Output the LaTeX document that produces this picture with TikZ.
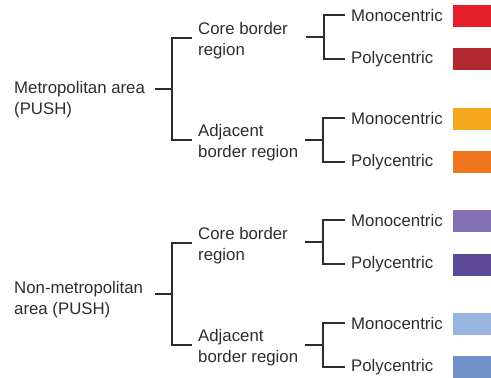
\documentclass[tikz,border=0pt]{standalone}
\usepackage{fontspec}
\setmainfont{Liberation Sans}
\usepackage{tikz}
\definecolor{inkgray}{RGB}{45, 45, 45}
\definecolor{monored}{RGB}{228, 30, 43}
\definecolor{polyred}{RGB}{176, 40, 48}
\definecolor{monoorange}{RGB}{246, 168, 28}
\definecolor{polyorange}{RGB}{238, 116, 30}
\definecolor{monopurple}{RGB}{132, 112, 177}
\definecolor{polypurple}{RGB}{91, 72, 151}
\definecolor{monoblue}{RGB}{154, 180, 224}
\definecolor{polyblue}{RGB}{114, 144, 201}
\usetikzlibrary{positioning, calc}

\begin{document}
\begin{tikzpicture}[x=1pt, y=-1pt,
    label/.style={anchor=west, align=left, inner xsep=6pt, inner ysep=0pt,
                  text=inkgray, font=\fontsize{16.8}{21}\selectfont},
    bracket/.style={draw=inkgray, line width=2pt},
    swatch/.style={fill=#1, draw=none, minimum width=38pt, minimum height=22pt,
                   inner sep=0pt}
]
    \useasboundingbox (0,0) rectangle (491,378);

    % Areas
    \node[label] (metro) at (8,100) {Metropolitan area\\(PUSH)};
    \node[label] (nonmetro) at (8,300) {Non-metropolitan\\area (PUSH)};

    % Border regions
    \node[label] (core1) at (192,41) {Core border\\region};
    \node[label] (adj1) at (192,142.5) {Adjacent\\border region};
    \node[label] (core2) at (192,246) {Core border\\region};
    \node[label] (adj2) at (192,347.5) {Adjacent\\border region};

    % Urban structure
    \node[label] (mono1) at (345,15) {Monocentric};
    \node[label] (poly1) at (345,59) {Polycentric};
    \node[label] (mono2) at (345,118) {Monocentric};
    \node[label] (poly2) at (345,162) {Polycentric};
    \node[label] (mono3) at (345,220) {Monocentric};
    \node[label] (poly3) at (345,264) {Polycentric};
    \node[label] (mono4) at (345,323) {Monocentric};
    \node[label] (poly4) at (345,367) {Polycentric};

    % Colour keys
    \node[swatch=monored] (key1) at (472,16) {};
    \node[swatch=polyred] (key2) at (472,59) {};
    \node[swatch=monoorange] (key3) at (472,119) {};
    \node[swatch=polyorange] (key4) at (472,162) {};
    \node[swatch=monopurple] (key5) at (472,220.5) {};
    \node[swatch=polypurple] (key6) at (472,264.5) {};
    \node[swatch=monoblue] (key7) at (472,323.5) {};
    \node[swatch=polyblue] (key8) at (472,367) {};

    % Junctions
    \coordinate (jmetro) at (172,89);
    \coordinate (jnonmetro) at (172,294);
    \coordinate (jcore1) at (324,37);
    \coordinate (jadj1) at (323,140);
    \coordinate (jcore2) at (323,242);
    \coordinate (jadj2) at (323,345);

    % Brackets
    \draw[bracket] (jmetro) -- +(-17,0)
        ([yshift=3pt]core1.west) -| (jmetro) |- ([yshift=3pt]adj1.west);
    \draw[bracket] (jnonmetro) -- +(-17,0)
        ([yshift=3pt]core2.west) -| (jnonmetro) |- ([yshift=3pt]adj2.west);
    \draw[bracket] (jcore1) -- +(-18,0) (mono1.west) -| (jcore1) |- (poly1.west);
    \draw[bracket] (jadj1) -- +(-18,0) (mono2.west) -| (jadj1) |- (poly2.west);
    \draw[bracket] (jcore2) -- +(-18,0) (mono3.west) -| (jcore2) |- (poly3.west);
    \draw[bracket] (jadj2) -- +(-18,0) (mono4.west) -| (jadj2) |- (poly4.west);
\end{tikzpicture}
\end{document}
